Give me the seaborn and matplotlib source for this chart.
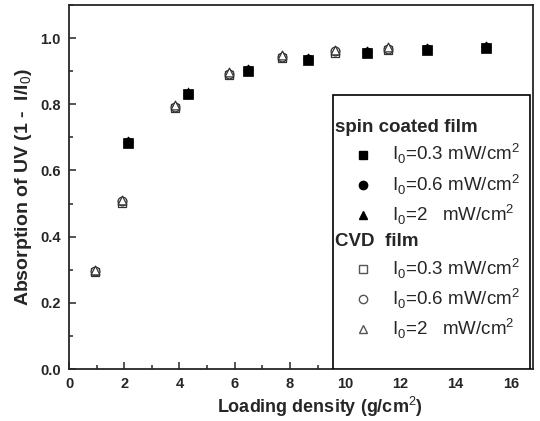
import matplotlib
matplotlib.use("Agg")
import matplotlib.pyplot as plt
from matplotlib.lines import Line2D
from matplotlib.patches import Rectangle
from matplotlib.ticker import MultipleLocator
import pandas as pd
import seaborn as sns

# loading density (g/cm2) and absorption (1 - I/I0)
spin_x = [2.15, 4.30, 6.50, 8.64, 10.81, 12.96, 15.11]
spin_03 = [0.683, 0.830, 0.900, 0.933, 0.955, 0.965, 0.970]
spin_06 = [0.686, 0.832, 0.903, 0.936, 0.958, 0.968, 0.973]
spin_2 = [0.690, 0.836, 0.907, 0.940, 0.962, 0.971, 0.977]

cvd_x = [0.94, 1.91, 3.84, 5.80, 7.70, 9.64, 11.57]
cvd_03 = [0.292, 0.503, 0.789, 0.888, 0.940, 0.956, 0.965]
cvd_06 = [0.296, 0.507, 0.793, 0.892, 0.944, 0.960, 0.968]
cvd_2 = [0.300, 0.512, 0.798, 0.897, 0.948, 0.963, 0.972]

labels = [r"I$_0$=0.3 mW/cm$^2$", r"I$_0$=0.6 mW/cm$^2$", r"I$_0$=2   mW/cm$^2$"]
markers = ["s", "o", "^"]

sns.set_style("ticks")
plt.rcParams["font.family"] = ["Liberation Sans", "DejaVu Sans"]
plt.rcParams["mathtext.fontset"] = "custom"
plt.rcParams["mathtext.rm"] = "Liberation Sans"
plt.rcParams["mathtext.bf"] = "Liberation Sans:bold"

fig = plt.figure(figsize=(5.4, 4.21), dpi=100)
ax = fig.add_axes([0.1278, 0.1235, 0.859, 0.8645])

# open symbols first, filled on top
for ys, m in zip([cvd_03, cvd_06, cvd_2], markers):
    df = pd.DataFrame({"x": cvd_x, "y": ys})
    sns.scatterplot(data=df, x="x", y="y", marker=m, s=40, facecolor="white",
                    edgecolor="#333333", linewidth=0.9, ax=ax, zorder=3)
for ys, m in zip([spin_03, spin_06, spin_2], markers):
    df = pd.DataFrame({"x": spin_x, "y": ys})
    sns.scatterplot(data=df, x="x", y="y", marker=m, s=44, color="black",
                    edgecolor="black", linewidth=0.5, ax=ax, zorder=4)

ax.set_xlim(0, 16.8)
ax.set_ylim(0, 1.1)
ax.xaxis.set_major_locator(MultipleLocator(2))
ax.xaxis.set_minor_locator(MultipleLocator(1))
ax.yaxis.set_major_locator(MultipleLocator(0.2))
ax.yaxis.set_minor_locator(MultipleLocator(0.1))
ax.tick_params(which="both", direction="in", top=False, right=False, width=1.1)
ax.tick_params(which="major", length=5, labelsize=10.5, pad=6)
ax.tick_params(which="minor", length=3)
for lab in ax.get_xticklabels() + ax.get_yticklabels():
    lab.set_fontweight("bold")
for sp in ax.spines.values():
    sp.set_linewidth(1.3)

ax.set_xlabel(r"Loading density (g/cm$^2$)", fontsize=13, fontweight="bold")
ax.xaxis.set_label_coords(0.54, -0.072)
ax.set_ylabel(r"Absorption of UV (1 -  I/I$_0$)", fontsize=14, fontweight="bold", labelpad=4)

# legend frame
ax.add_patch(Rectangle((0.569, 0.0), 0.4245, 0.753, transform=ax.transAxes,
                       facecolor="white", edgecolor="black", linewidth=1.2, zorder=5))

blank = Line2D([], [], linestyle="none", marker="")
handles = [blank]
handles += [Line2D([], [], linestyle="none", marker=m, color="black", markersize=6) for m in markers]
handles += [blank]
handles += [Line2D([], [], linestyle="none", marker=m, markerfacecolor="white",
                   markeredgecolor="#555555", markersize=6) for m in markers]
texts = ["spin coated film"] + labels + ["CVD  film"] + labels

leg = ax.legend(handles, texts, loc="upper left", bbox_to_anchor=(0.593, 0.687),
                frameon=False, fontsize=13.5, handlelength=2.0, handletextpad=0.56,
                borderpad=0.0, labelspacing=0.33, borderaxespad=0.0)
leg.set_zorder(6)
for i in (0, 4):
    t = leg.get_texts()[i]
    t.set_fontweight("bold")
    t.set_x(-57)

fig.savefig("out.png", dpi=100)
